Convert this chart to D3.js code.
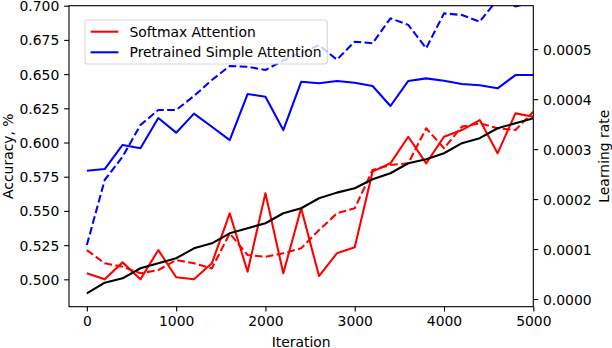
<!DOCTYPE html>
<html>
<head>
<meta charset="utf-8">
<script src="https://cdn.jsdelivr.net/npm/d3@7"></script>
<style>
  html, body { margin: 0; padding: 0; background: #fff; }
  svg { display: block; }
  text { font-family: "DejaVu Sans", sans-serif; font-size: 13.9px; fill: #000; }
</style>
</head>
<body>
<svg id="chart" width="612" height="348"></svg>
<script>
// ---------------- data ----------------
const iterations = [0,200,400,600,800,1000,1200,1400,1600,1800,2000,2200,2400,2600,2800,3000,3200,3400,3600,3800,4000,4200,4400,4600,4800,5000];

const softmaxTrain = [0.5044,0.5000,0.5124,0.5000,0.5214,0.5015,0.5000,0.5117,0.5482,0.5056,0.5629,0.5044,0.5519,0.5024,0.5190,0.5234,0.5787,0.5848,0.6042,0.5848,0.6042,0.6091,0.6164,0.5921,0.6213,0.6189];
const softmaxVal   = [0.5214,0.5117,0.5092,0.5044,0.5068,0.5141,0.5117,0.5080,0.5336,0.5178,0.5165,0.5190,0.5227,0.5360,0.5482,0.5519,0.5799,0.5836,0.5848,0.6104,0.5958,0.6116,0.6140,0.6104,0.6091,0.6225];
const simpleTrain  = [0.5794,0.5806,0.5982,0.5958,0.6179,0.6072,0.6211,0.6115,0.6018,0.6354,0.6335,0.6091,0.6444,0.6433,0.6450,0.6437,0.6413,0.6267,0.6450,0.6469,0.6452,0.6428,0.6418,0.6396,0.6493,0.6493];
const simpleVal    = [0.5251,0.5726,0.5896,0.6128,0.6238,0.6238,0.6340,0.6457,0.6559,0.6554,0.6530,0.6600,0.6655,0.6711,0.6606,0.6737,0.6725,0.6908,0.6860,0.6689,0.6944,0.6932,0.6883,0.7047,0.6995,0.7030];
const learningRate = [0.0000114,0.0000326,0.0000414,0.0000615,0.0000715,0.0000815,0.0001015,0.0001115,0.0001315,0.0001416,0.0001516,0.0001716,0.0001816,0.0002016,0.0002129,0.0002217,0.0002397,0.0002517,0.0002717,0.0002797,0.0002917,0.0003118,0.0003218,0.0003418,0.0003518,0.0003618];

const xTicks = [0,1000,2000,3000,4000,5000];
const yLeftTicks = [0.500,0.525,0.550,0.575,0.600,0.625,0.650,0.675,0.700];
const yRightTicks = [0.0000,0.0001,0.0002,0.0003,0.0004,0.0005];
const legendLabels = ["Softmax Attention","Pretrained Simple Attention"];

// ---------------- layout ----------------
const L = 69, R = 533.3, T = 5.7, B = 306.7;
const lw = 2.08;
const tickLen = 4.86, pad = 4.86;

const svg = d3.select("#chart");

const x = d3.scaleLinear().domain([-200, 5000]).range([L, R]);
const yL = d3.scaleLinear().domain([0.48, 0.70]).range([B, T]);
const yR = d3.scaleLinear().domain([-0.0000154, 0.000587]).range([B, T]);

svg.append("defs").append("clipPath").attr("id","clip")
  .append("rect").attr("x",L).attr("y",T).attr("width",R-L).attr("height",B-T);

const plot = svg.append("g").attr("clip-path","url(#clip)");

const lineL = d3.line().x((d,i)=>x(iterations[i])).y(d=>yL(d));
const lineR = d3.line().x((d,i)=>x(iterations[i])).y(d=>yR(d));

const dash = `${3.7*lw},${1.6*lw}`;
const series = [
  {data: softmaxTrain, color:"#ff0000", dash:null},
  {data: softmaxVal,   color:"#ff0000", dash:dash},
  {data: simpleTrain,  color:"#0000ff", dash:null},
  {data: simpleVal,    color:"#0000ff", dash:dash}
];
series.forEach(s => {
  plot.append("path").datum(s.data)
    .attr("d", lineL)
    .attr("fill","none")
    .attr("stroke", s.color)
    .attr("stroke-width", lw)
    .attr("stroke-linejoin","round")
    .attr("stroke-linecap","butt")
    .attr("stroke-dasharray", s.dash);
});
plot.append("path").datum(learningRate)
  .attr("d", lineR)
  .attr("fill","none")
  .attr("stroke","#000")
  .attr("stroke-width", lw)
  .attr("stroke-linejoin","round");

// ---------------- axes ----------------
const xAxis = d3.axisBottom(x).tickValues(xTicks).tickSize(tickLen).tickPadding(pad).tickFormat(d3.format("d"));
const yAxisL = d3.axisLeft(yL).tickValues(yLeftTicks).tickSize(tickLen).tickPadding(pad).tickFormat(d3.format(".3f"));
const yAxisR = d3.axisRight(yR).tickValues(yRightTicks).tickSize(tickLen).tickPadding(pad).tickFormat(d3.format(".4f"));

function styleAxis(g){
  g.select(".domain").remove();
  g.selectAll(".tick line").attr("stroke","#000").attr("stroke-width",1.1);
  g.selectAll(".tick text").attr("font-family","DejaVu Sans, sans-serif").attr("font-size","13.9px").attr("fill","#000");
}
const gx = svg.append("g").attr("transform",`translate(0,${B})`).call(xAxis).call(styleAxis);
gx.selectAll(".tick text").attr("dy","0.71em");
const gyl = svg.append("g").attr("transform",`translate(${L},0)`).call(yAxisL).call(styleAxis);
gyl.selectAll(".tick text").attr("dy","0.36em");
const gyr = svg.append("g").attr("transform",`translate(${R},0)`).call(yAxisR).call(styleAxis);
gyr.selectAll(".tick text").attr("dy","0.36em");

// frame
svg.append("rect").attr("x",L).attr("y",T).attr("width",R-L).attr("height",B-T)
  .attr("fill","none").attr("stroke","#000").attr("stroke-width",1.1);

// axis labels
svg.append("text").attr("x",(L+R)/2).attr("y",346.5).attr("text-anchor","middle").text("Iteration");
svg.append("text").attr("transform",`translate(12.8,${(T+B)/2}) rotate(-90)`).attr("text-anchor","middle").text("Accuracy, %");
svg.append("text").attr("transform",`translate(609,${(T+B)/2}) rotate(-90)`).attr("text-anchor","middle").text("Learning rate");

// ---------------- legend ----------------
const legendColors = ["#ff0000","#0000ff"];
const lg = svg.append("g");
const boxX = 85, boxY = 20, rowY = [31.7, 52.3];
const frame = lg.append("rect").attr("x",boxX).attr("y",boxY).attr("rx",2.8).attr("ry",2.8)
  .attr("height",44).attr("fill","#fff").attr("fill-opacity",0.8)
  .attr("stroke","#cccccc").attr("stroke-opacity",0.8).attr("stroke-width",1.1);
let maxW = 0;
legendLabels.forEach((lab,i)=>{
  lg.append("line").attr("x1",boxX+5.6).attr("x2",boxX+5.6+27.8).attr("y1",rowY[i]).attr("y2",rowY[i])
    .attr("stroke",legendColors[i]).attr("stroke-width",lw);
  const t = lg.append("text").attr("x",boxX+5.6+27.8+11.1).attr("y",rowY[i]).attr("dy","0.36em").text(lab);
  maxW = Math.max(maxW, t.node().getComputedTextLength());
});
frame.attr("width", 5.6+27.8+11.1+maxW+5.6);
</script>
</body>
</html>
